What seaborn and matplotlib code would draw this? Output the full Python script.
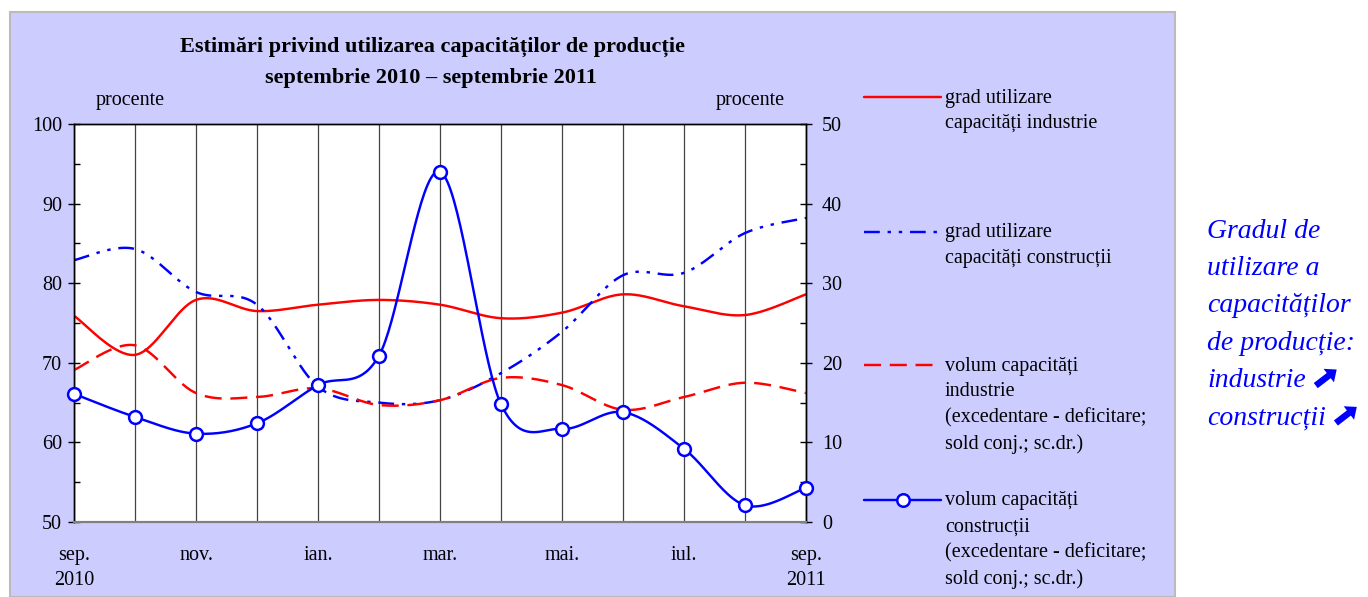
import numpy as np
import matplotlib
matplotlib.use('Agg')
import matplotlib.pyplot as plt
from matplotlib.lines import Line2D
from matplotlib.patches import Rectangle, FancyArrow
from matplotlib.transforms import IdentityTransform
import seaborn as sns

# date (sep 2010 - sep 2011)
luni = np.arange(13)
eticheta_luni = ['sep.\n2010', 'nov.', 'ian.', 'mar.', 'mai.', 'iul.', 'sep.\n2011']
grad_industrie = [75.9, 71.0, 77.9, 76.5, 77.3, 77.9, 77.3, 75.6, 76.3, 78.6, 77.1, 76.0, 78.6]
grad_constructii = [82.9, 84.3, 78.9, 77.3, 67.0, 65.0, 65.3, 68.7, 73.9, 81.0, 81.3, 86.3, 88.2]
volum_industrie = [19.1, 22.2, 16.2, 15.7, 16.8, 14.7, 15.3, 18.1, 17.2, 14.1, 15.7, 17.5, 16.2]
volum_constructii = [16.1, 13.2, 11.1, 12.4, 17.2, 20.9, 44.0, 14.8, 11.7, 13.8, 9.2, 2.1, 4.3]

RED = '#FF0000'
BLUE = '#0000FF'
W, H = 1368, 597
LW = 1.75


def smooth(x, y, n=40):
    # curba netezita tip Excel (bezier cu tangente catmull-rom)
    p = np.column_stack([x, y]).astype(float)
    out = []
    for i in range(len(p) - 1):
        p0 = p[i - 1] if i > 0 else p[i]
        p1, p2 = p[i], p[i + 1]
        p3 = p[i + 2] if i + 2 < len(p) else p[i + 1]
        c1 = p1 + (p2 - p0) / 6
        c2 = p2 - (p3 - p1) / 6
        t = np.linspace(0, 1, n)[:, None]
        seg = (1 - t) ** 3 * p1 + 3 * (1 - t) ** 2 * t * c1 + 3 * (1 - t) * t ** 2 * c2 + t ** 3 * p2
        out.append(seg if i == 0 else seg[1:])
    out = np.vstack(out)
    return out[:, 0], out[:, 1]


sns.set_style('ticks')
plt.rcParams['font.family'] = ['Liberation Serif', 'DejaVu Sans']
plt.rcParams['font.size'] = 14
plt.rcParams['text.color'] = 'black'
plt.rcParams['xtick.color'] = 'black'
plt.rcParams['ytick.color'] = 'black'
plt.rcParams['xtick.labelcolor'] = 'black'
plt.rcParams['ytick.labelcolor'] = 'black'

fig = plt.figure(figsize=(W / 100, H / 100), dpi=100)
fig.patch.set_facecolor('white')
fig.add_artist(Rectangle((10 / W, 0), 1165 / W, (H - 12) / H, transform=fig.transFigure,
                         facecolor='#CCCCFF', edgecolor='#BBBBBB', lw=1.5, zorder=0))

ax = fig.add_axes([74 / W, 1 - 522 / H, (806 - 74) / W, (522 - 124) / H])
ax.set_facecolor('white')
ax2 = ax.twinx()

# axa stanga: grad de utilizare
xs, ys = smooth(luni, grad_industrie)
sns.lineplot(x=xs, y=ys, ax=ax, sort=False, estimator=None, color=RED, lw=LW)
xs, ys = smooth(luni, grad_constructii)
sns.lineplot(x=xs, y=ys, ax=ax, sort=False, estimator=None, color=BLUE, lw=LW)
ax.lines[-1].set_dashes((6.5, 3.2, 1.4, 3.2, 1.4, 3.2))

# axa dreapta: sold conjunctural
xs, ys = smooth(luni, volum_industrie)
sns.lineplot(x=xs, y=ys, ax=ax2, sort=False, estimator=None, color=RED, lw=LW)
ax2.lines[-1].set_dashes((7, 3.6))
xs, ys = smooth(luni, volum_constructii)
sns.lineplot(x=xs, y=ys, ax=ax2, sort=False, estimator=None, color=BLUE, lw=LW)
sns.scatterplot(x=luni, y=volum_constructii, ax=ax2, marker='o', s=85,
                facecolor='white', edgecolor=BLUE, linewidth=1.8, zorder=5, clip_on=False)

ax.set_xlim(0, 12)
ax.set_ylim(50, 100)
ax2.set_ylim(0, 50)
ax.set_yticks(np.arange(50, 101, 10))
ax.set_yticks(np.arange(55, 100, 10), minor=True)
ax2.set_yticks(np.arange(0, 51, 10))
ax2.set_yticks(np.arange(5, 50, 10), minor=True)
ax.set_xticks(np.arange(0, 13, 2))
ax.set_xticks(luni, minor=True)
ax.set_xticklabels(eticheta_luni)
for t in ax.get_xticklabels():
    t.set_linespacing(1.45)
ax.grid(which='both', axis='x', color='#444444', lw=0.9)
ax.set_axisbelow(True)
ax.tick_params(axis='x', which='both', length=0, pad=17, labelsize=14.5)
ax.tick_params(axis='y', which='major', direction='inout', length=9, width=1, labelsize=14.5, pad=4)
ax.tick_params(axis='y', which='minor', direction='in', length=4, width=1)
ax2.tick_params(axis='y', which='major', direction='inout', length=9, width=1, labelsize=14.5, pad=7)
ax2.tick_params(axis='y', which='minor', direction='in', length=4, width=1)
for a in (ax, ax2):
    a.set_xlabel('')
    a.set_ylabel('')
    for s in a.spines.values():
        s.set_visible(True)
        s.set_color('black')
        s.set_linewidth(1)
    a.spines['bottom'].set_color('#808080')
    a.spines['bottom'].set_linewidth(1.5)

fig.text(432 / W, 1 - 47 / H, 'Estimări privind utilizarea capacităților de producție',
         ha='center', va='center', fontsize=16, fontweight='bold')
fig.text(431 / W, 1 - 78 / H, 'septembrie 2010 – septembrie 2011',
         ha='center', va='center', fontsize=16, fontweight='bold')
fig.text(130 / W, 1 - 100 / H, 'procente', ha='center', va='center', fontsize=14.5)
fig.text(750 / W, 1 - 100 / H, 'procente', ha='center', va='center', fontsize=14.5)

# legenda
legenda = [
    (97, dict(color=RED, lw=LW), ['grad utilizare', 'capacități industrie']),
    (232, dict(color=BLUE, lw=LW, dashes=(6.5, 3.2, 1.4, 3.2, 1.4, 3.2)), ['grad utilizare', 'capacități construcții']),
    (365, dict(color=RED, lw=LW, dashes=(7, 3.6)), ['volum capacități', 'industrie', '(excedentare - deficitare;', 'sold conj.; sc.dr.)']),
    (500, dict(color=BLUE, lw=LW, marker='o', markevery=[1], markersize=9, markerfacecolor='white',
               markeredgewidth=1.8), ['volum capacități', 'construcții', '(excedentare - deficitare;', 'sold conj.; sc.dr.)']),
]
for y, st, lines in legenda:
    fig.add_artist(Line2D([864 / W, 903 / W, 941 / W], [1 - y / H] * 3, transform=fig.transFigure, **st))
    for k, txt in enumerate(lines):
        fig.text(945 / W, 1 - (y + 1 + 26 * k) / H, txt, ha='left', va='center', fontsize=14.5)

# text lateral
lateral = ['Gradul de', 'utilizare a', 'capacităților', 'de producție:', 'industrie', 'construcții']
sageti = [False, False, False, False, True, True]
renderer = fig.canvas.get_renderer()
for k, (txt, sag) in enumerate(zip(lateral, sageti)):
    yc = 231 + 37.4 * k
    t = fig.text(1207 / W, 1 - yc / H, txt, ha='left', va='center', fontsize=20,
                 style='italic', color=BLUE)
    if sag:
        x1 = t.get_window_extent(renderer).x1
        # sageata groasa spre dreapta-sus
        x0, y0 = x1 + 10, H - (yc + 5)
        fig.add_artist(FancyArrow(x0, y0, 13, 10, width=6.5, head_width=17, head_length=10,
                                  length_includes_head=False, color=BLUE, lw=0,
                                  transform=IdentityTransform()))

fig.savefig('out.png', dpi=100)
